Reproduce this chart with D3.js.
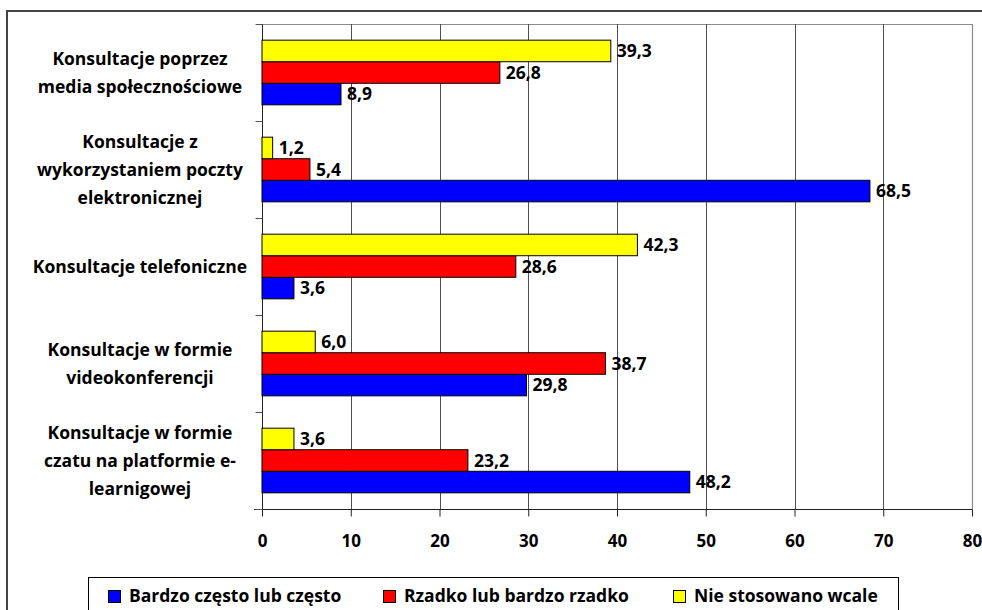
<!DOCTYPE html>
<html>
<head>
<meta charset="utf-8">
<script src="https://cdn.jsdelivr.net/npm/d3@7"></script>
<style>
  html, body { margin: 0; padding: 0; background: #fff; }
  svg { display: block; }
  text { font-family: "Open Sans", Lato, sans-serif; font-weight: bold; fill: #000; }
</style>
</head>
<body>
<svg id="chart" width="982" height="610"></svg>
<script>
// Categories, top to bottom; each label broken into its drawn lines
const categories = [
  ["Konsultacje poprzez", "media społecznościowe"],
  ["Konsultacje z", "wykorzystaniem poczty", "elektronicznej"],
  ["Konsultacje telefoniczne"],
  ["Konsultacje w formie", "videokonferencji"],
  ["Konsultacje w formie", "czatu na platformie e-", "learnigowej"]
];
const seriesNames = ["Bardzo często lub często", "Rzadko lub bardzo rzadko", "Nie stosowano wcale"];
const seriesColors = ["#0000FF", "#FF0000", "#FFFF00"];
const often = [8.9, 68.5, 3.6, 29.8, 48.2];
const rarely = [26.8, 5.4, 28.6, 38.7, 23.2];
const never = [39.3, 1.2, 42.3, 6.0, 3.6];
const xTicks = [0, 10, 20, 30, 40, 50, 60, 70, 80];

const seriesValues = [often, rarely, never];
const svg = d3.select("#chart");
const FONT = '"Open Sans", Lato, sans-serif';

// Outer chart frame
svg.append("rect").attr("x", 7).attr("y", 11).attr("width", 1000).attr("height", 640)
  .attr("fill", "none").attr("stroke", "#444").attr("stroke-width", 2);

const plot = { left: 262, right: 972, top: 24, bottom: 509 };
const x = d3.scaleLinear().domain([0, 80]).range([plot.left, plot.right]);
const y = d3.scaleBand().domain(d3.range(categories.length)).range([plot.top, plot.bottom]).paddingInner(0).paddingOuter(0);
// Within a band: yellow on top, then red, then blue (gap width 150%)
const inner = d3.scaleBand().domain([2, 1, 0]).range([0, y.bandwidth()]).paddingInner(0).paddingOuter(0.75);

const fmt = v => d3.format(".1f")(v).replace(".", ",");

// Plot area border (top and right) in grey
svg.append("path")
  .attr("d", `M${plot.left},${plot.top + 0.5}H${plot.right + 0.5}V${plot.bottom}`)
  .attr("fill", "none").attr("stroke", "#8c8c8c").attr("stroke-width", 1.2);

// Vertical gridlines
svg.append("g").selectAll("line").data(xTicks.filter(t => t > 0 && t < 80)).join("line")
  .attr("x1", d => Math.round(x(d)) + 0.5).attr("x2", d => Math.round(x(d)) + 0.5)
  .attr("y1", plot.top).attr("y2", plot.bottom)
  .attr("stroke", "#505050").attr("stroke-width", 1);

// X axis
const xAxis = svg.append("g").attr("transform", `translate(0,${plot.bottom + 0.5})`)
  .call(d3.axisBottom(x).tickValues(xTicks).tickSize(7).tickPadding(18).tickFormat(d3.format("d")));
xAxis.select(".domain").attr("stroke", "#222").attr("d", `M${plot.left - 8},0H${plot.right + 0.5}`);
xAxis.selectAll(".tick line").attr("stroke", "#222");
xAxis.selectAll(".tick text").style("font-size", "17px").style("font-family", FONT).style("font-weight", "bold").attr("fill", "#000");

// Y axis with category tick marks at band edges
const yAxis = svg.append("g").attr("transform", `translate(${plot.left + 0.5},0)`);
yAxis.append("line").attr("x1", 0).attr("x2", 0).attr("y1", plot.top).attr("y2", plot.bottom + 7).attr("stroke", "#222");
yAxis.selectAll("line.tick").data(d3.range(categories.length + 1)).join("line").attr("class", "tick")
  .attr("x1", -7).attr("x2", 0)
  .attr("y1", i => Math.round(plot.top + i * y.step()) + 0.5)
  .attr("y2", i => Math.round(plot.top + i * y.step()) + 0.5)
  .attr("stroke", "#555");

// Category labels, centred over x=140
const lineH = 28;
const catG = svg.append("g");
categories.forEach((lines, i) => {
  const cy = y(i) + y.bandwidth() / 2;
  const t = catG.append("text").attr("text-anchor", "middle").style("font-size", "17.5px");
  lines.forEach((ln, j) => {
    t.append("tspan").attr("x", 140)
      .attr("y", cy + (j - (lines.length - 1) / 2) * lineH)
      .attr("dy", "0.35em").text(ln);
  });
});

// Bars
seriesValues.forEach((vals, s) => {
  const g = svg.append("g");
  g.selectAll("rect").data(vals).join("rect")
    .attr("x", x(0))
    .attr("y", (d, i) => y(i) + inner(s))
    .attr("width", d => x(d) - x(0))
    .attr("height", inner.bandwidth())
    .attr("fill", seriesColors[s]).attr("stroke", "#000").attr("stroke-width", 1);
  g.selectAll("text").data(vals).join("text")
    .attr("x", d => x(d) + 6)
    .attr("y", (d, i) => y(i) + inner(s) + inner.bandwidth() / 2)
    .attr("dy", "0.36em")
    .style("font-size", "17.5px")
    .text(d => fmt(d));
});

// Legend
const legend = svg.append("g");
legend.append("rect").attr("x", 88.5).attr("y", 577.5).attr("width", 810).attr("height", 60)
  .attr("fill", "#fff").attr("stroke", "#000").attr("stroke-width", 1);
const legendX = [108, 383, 673];
seriesNames.forEach((name, s) => {
  legend.append("rect").attr("x", legendX[s] + 0.5).attr("y", 590.5).attr("width", 12).attr("height", 12)
    .attr("fill", seriesColors[s]).attr("stroke", "#000").attr("stroke-width", 1);
  legend.append("text").attr("x", legendX[s] + 21).attr("y", 596).attr("dy", "0.36em")
    .style("font-size", "17.5px").text(name);
});
</script>
</body>
</html>
